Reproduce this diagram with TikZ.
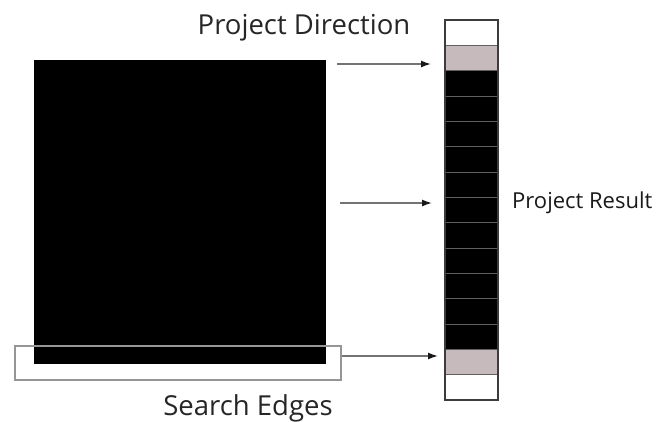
\documentclass[tikz,border=0pt]{standalone}
\usepackage{fontspec}
\setmainfont{Open Sans}
\definecolor{cellgray}{RGB}{198, 186, 188}
\definecolor{edgegray}{RGB}{150, 150, 150}
\definecolor{linegray}{RGB}{95, 95, 95}
\definecolor{framegray}{RGB}{60, 60, 60}
\usetikzlibrary{arrows.meta, positioning}
\tikzset{
	cell/.style={rectangle, draw=linegray, line width=0.8pt, fill=black, minimum width=53pt, minimum height=25.33pt, inner sep=0pt, outer sep=0pt},
	column/.style={rectangle, draw=framegray, line width=1.8pt, minimum width=53pt, minimum height=380pt, inner sep=0pt},
	block/.style={rectangle, fill=black, minimum width=292pt, minimum height=304pt, inner sep=0pt},
	edgebox/.style={rectangle, draw=edgegray, line width=1.3pt, minimum width=326pt, minimum height=34pt, inner sep=0pt},
	label/.style={font=\fontsize{27.5}{32}\selectfont, text=black!85, inner sep=0pt, anchor=base},
	smalllabel/.style={font=\fontsize{22}{26}\selectfont, text=black!90, inner sep=0pt, anchor=base west},
	arrow/.style={-{Latex[length=10pt, width=7pt, color=black!90]}, line width=1.4pt, draw=black!55},
}

\begin{document}
\begin{tikzpicture}[x=1pt, y=-1pt]
		\useasboundingbox (0,0) rectangle (662,421);
		\node[block] (square) at (180,212) {};
		\node[edgebox] (edges) at (178,363) {};
		% projection column
		\foreach \i in {1,...,15} {
			\node[cell] (c\i) at (471.5,{20+25.33*(\i-0.5)}) {};
		}
		\foreach \i in {1,15} { \node[cell, fill=white] at (c\i) {}; }
		\foreach \i in {2,14} { \node[cell, fill=cellgray] at (c\i) {}; }
		\node[column] (col) at (471.5,210) {};
		\node[label] (dirlabel) at (304,34) {Project Direction};
		\node[smalllabel] (reslabel) at (512,208) {Project Result};
		\node[label] (edgelabel) at (248,415) {Search Edges};
		\coordinate (s1) at (337,64);
		\coordinate (t1) at (431,64);
		\coordinate (s2) at (340,203);
		\coordinate (t2) at (432,203);
		\coordinate (t3) at (438,356);
		\draw[arrow] (s1) -- (t1);
		\draw[arrow] (s2) -- (t2);
		\draw[arrow] (edges.east |- t3) -- (t3);
	\end{tikzpicture}
\end{document}
